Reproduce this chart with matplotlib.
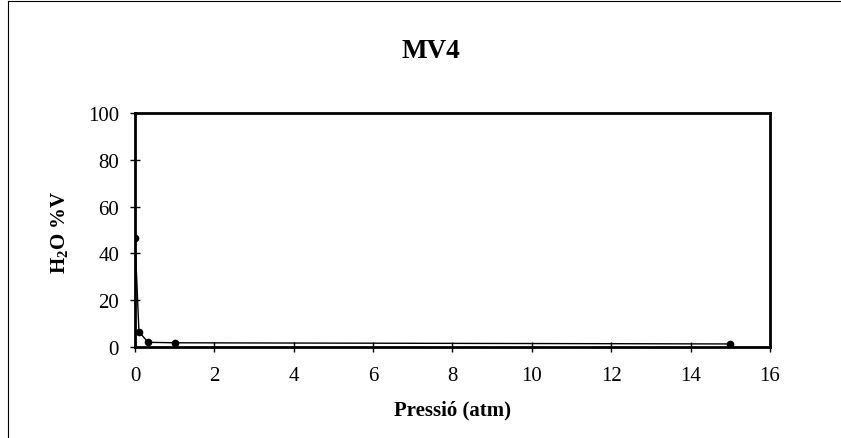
import matplotlib
matplotlib.use("Agg")
import matplotlib.pyplot as plt
from matplotlib.lines import Line2D

pressure = [0.0, 0.1, 0.33, 1.0, 15.0]
h2o = [46.5, 6.5, 2.0, 1.8, 1.3]
x_ticks = [0, 2, 4, 6, 8, 10, 12, 14, 16]
y_ticks = [0, 20, 40, 60, 80, 100]

plt.rcParams['font.family'] = ['Liberation Serif', 'DejaVu Serif']
plt.rcParams['mathtext.fontset'] = 'custom'
plt.rcParams['mathtext.rm'] = 'Liberation Serif'
plt.rcParams['mathtext.bf'] = 'Liberation Serif:bold'

fig = plt.figure(figsize=(8.41, 4.39), dpi=100)
ax = fig.add_axes([0.1605, 0.2073, 0.755, 0.533])

ax.plot(pressure, h2o, color='black', lw=1.0, marker='o', markersize=4.5,
        markerfacecolor='black', markeredgecolor='black')

ax.set_xlim(0, 16)
ax.set_ylim(0, 100)
ax.set_xticks(x_ticks)
ax.set_yticks(y_ticks)
ax.set_xticklabels([str(t) for t in x_ticks], fontsize=15)
ax.set_yticklabels([str(t) for t in y_ticks], fontsize=15)
ax.tick_params(direction='inout', length=7, width=1.0, colors='black')
ax.tick_params(axis='x', pad=10)
ax.tick_params(axis='y', pad=8)
for s in ax.spines.values():
    s.set_linewidth(2.0)
    s.set_color('black')

fig.text(431/841, 1 - 51/439, 'MV4', fontsize=19.5, fontweight='bold',
         ha='center', va='center')
fig.text(453/841, 1 - 410/439, 'Pressió (atm)', fontsize=15, fontweight='bold',
         ha='center', va='center')
fig.text(60/841, 1 - 232/439, r'H$_{\mathbf{2}}$O %V', fontsize=15, fontweight='bold',
         ha='center', va='center', rotation=90)

# figure frame (left and top edges)
fig.add_artist(Line2D([8/841, 8/841], [0, 1-2/439], transform=fig.transFigure,
                      color='black', lw=0.8))
fig.add_artist(Line2D([8/841, 1], [1-2/439, 1-2/439], transform=fig.transFigure,
                      color='black', lw=0.8))

fig.savefig('out.png', dpi=100)
